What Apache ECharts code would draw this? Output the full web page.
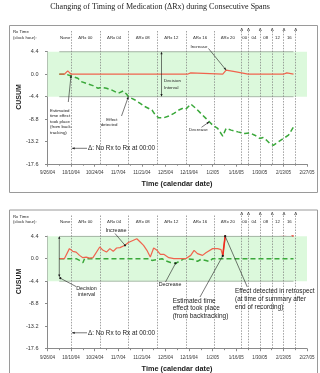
<!DOCTYPE html>
<html>
<head>
<meta charset="utf-8">
<script src="https://cdn.jsdelivr.net/npm/echarts/dist/echarts.min.js"></script>
<style>
  html, body { margin: 0; padding: 0; background: #fff; }
  #c { width: 320px; height: 373px; }
</style>
</head>
<body>
<div id="c"></div>
<script>
// ---- axis set-up -------------------------------------------------------
const axisStartDate = '2004-09-26';
const axisEndDate = '2005-02-27';
const dateTickDays = 14;
const cusumTicks = [-17.6, -13.2, -8.8, -4.4, 0, 4.4];
const decisionInterval = 4.4;

// ---- Rx periods ----------------------------------------------------------
const recordStart = '2004-10-03';
const recordEnd = '2005-02-19';
const rxChangeDates = ['2004-10-10', '2004-10-27', '2004-11-13', '2004-11-30', '2004-12-17',
  '2005-01-03', '2005-01-19', '2005-01-23', '2005-01-30', '2005-02-06', '2005-02-13', '2005-02-20'];
const rxPeriodLabels = ['None', 'ΔRx 00', 'ΔRx 04', 'ΔRx 08', 'ΔRx 12', 'ΔRx 16', 'ΔRx 20',
  '00', '04', '08', '12', '16'];
const deltaMarkDates = rxChangeDates.slice(6);

// ---- panel 1: CUSUM of the first recording -----------------------------
const upper1Dates = ['2004-10-03', '2004-10-06', '2004-10-08', '2004-10-09', '2004-10-10', '2004-12-18',
  '2004-12-20', '2004-12-21', '2005-01-08', '2005-01-10', '2005-01-16', '2005-01-23', '2005-02-13',
  '2005-02-15', '2005-02-16', '2005-02-19'];
const upper1Values = [0, 0, 0.65, 0.4, 0, 0, 0.26, 0, 0, 0.8, 0.45, 0, 0, 0.26, 0, 0];

const lower1Dates = ['2004-10-03', '2004-10-07', '2004-10-11', '2004-10-14', '2004-10-16', '2004-10-20',
  '2004-10-23', '2004-10-26', '2004-10-28', '2004-10-31', '2004-11-03', '2004-11-07', '2004-11-10',
  '2004-11-12', '2004-11-13', '2004-11-17', '2004-11-20', '2004-11-23', '2004-11-24', '2004-11-27',
  '2004-11-29', '2004-12-01', '2004-12-04', '2004-12-07', '2004-12-10', '2004-12-13', '2004-12-15',
  '2004-12-17', '2004-12-20', '2004-12-23', '2004-12-26', '2004-12-29', '2004-12-31', '2005-01-02',
  '2005-01-05', '2005-01-08', '2005-01-10', '2005-01-13', '2005-01-17', '2005-01-21', '2005-01-24',
  '2005-01-27', '2005-01-30', '2005-02-01', '2005-02-03', '2005-02-05', '2005-02-07', '2005-02-10',
  '2005-02-13', '2005-02-16', '2005-02-19'];
const lower1Values = [0, 0, -0.47, -0.8, -1.45, -1.9, -2.24, -2.75, -2.55, -2.75, -3.08, -3.73, -3.28,
  -3.93, -4.4, -5.05, -5.7, -6.37, -6.03, -7.0, -8.0, -8.53, -8.53, -8.19, -7.66, -7.0, -6.7, -6.88,
  -5.83, -6.68, -7.66, -8.64, -9.31, -9.96, -10.6, -12.1, -10.6, -10.94, -11.28, -11.59, -11.47,
  -11.93, -12.57, -12.38, -12.9, -13.56, -13.9, -13.24, -12.57, -11.93, -10.3];

// ---- panel 2: CUSUM of the second recording ----------------------------
const upper2Dates = ['2004-10-03', '2004-10-06', '2004-10-09', '2004-10-11', '2004-10-13', '2004-10-15',
  '2004-10-17', '2004-10-19', '2004-10-21', '2004-10-23', '2004-10-24', '2004-10-27', '2004-10-29',
  '2004-10-31', '2004-11-02', '2004-11-04', '2004-11-06', '2004-11-08', '2004-11-11', '2004-11-13',
  '2004-11-15', '2004-11-18', '2004-11-20', '2004-11-22', '2004-11-24', '2004-11-26', '2004-11-28',
  '2004-11-30', '2004-12-02', '2004-12-04', '2004-12-07', '2004-12-10', '2004-12-17', '2004-12-20',
  '2004-12-22', '2004-12-24', '2004-12-27', '2004-12-29', '2004-12-30', '2005-01-02', '2005-01-03',
  '2005-01-05', '2005-01-07', '2005-01-08', '2005-01-10', '2005-01-16', '2005-01-21', '2005-01-24',
  '2005-01-29', '2005-02-01', '2005-02-03', '2005-02-06', '2005-02-10', '2005-02-11', '2005-02-14',
  '2005-02-17', '2005-02-19'];
const upper2Values = [0, 0, 1.97, 1.44, 1.3, 0.65, 0.2, 0.32, 0.12, 0.2, 0, 2.29, 1.64, 1.3, 1.97, 1.44,
  2.09, 2.17, 2.62, 3.16, 3.47, 3.9, 3.27, 2.62, 1.64, 0.32, 2.09, 1.64, 0.85, 0.85, 0.2, 0, 0, 0.65,
  1.64, 0.99, 0.65, 1.18, 0.79, 1.97, 1.64, 1.97, 1.78, 0.55, 5.92, 5.68, 5.44, 5.25, 5.38, 5.88, 5.25,
  4.79, 4.79, 5.13, 4.73, 4.93, 4.4];
// the retrospective signal: from the estimated change point to the end of recording
const signalFromDate = '2005-01-08';

const lower2Dates = ['2004-10-03', '2004-10-13', '2004-10-15', '2004-10-17', '2004-10-18', '2004-11-25',
  '2004-11-27', '2004-11-28', '2004-12-03', '2004-12-05', '2004-12-08', '2004-12-11', '2004-12-14',
  '2004-12-16', '2004-12-22', '2004-12-24', '2004-12-26', '2004-12-29', '2004-12-31', '2005-01-02',
  '2005-02-19'];
const lower2Values = [0, 0, -0.34, -0.79, 0, 0, -0.34, 0, 0, -0.4, -0.75, -0.9, -0.4, 0, -0.14, -0.53,
  -0.14, -0.34, -0.53, 0, 0];

// ---- helpers -------------------------------------------------------------
const MS_DAY = 86400000;
const baseMs = (() => { const p = axisStartDate.split('-').map(Number); return Date.UTC(p[0], p[1] - 1, p[2]); })();
const dayOf = s => { const p = s.split('-').map(Number); return (Date.UTC(p[0], p[1] - 1, p[2]) - baseMs) / MS_DAY; };
const fmtDay = d => {
  const t = new Date(baseMs + Math.round(d) * MS_DAY);
  return (t.getUTCMonth() + 1) + '/' + t.getUTCDate() + '/' + String(t.getUTCFullYear()).slice(2);
};
const pairs = (dates, vals) => dates.map((d, i) => [dayOf(d), vals[i]]);
const valueAt = (dates, vals, d) => vals[dates.indexOf(d)];

const FONT = 'Liberation Sans';
const ink = '#1c1c1c';
const axisGrey = '#8a8a8a';
const redCol = '#f0644e';
const signalRed = '#ee2a1e';
const greenCol = '#3aa83a';
const PANEL_DY = 184.5;

const grids = [
  { left: 47.5, width: 259.5, top: 51.7, height: 112.5, outerBoundsMode: 'none' },
  { left: 47.5, width: 259.5, top: 51.7 + PANEL_DY, height: 112.5, outerBoundsMode: 'none' }
];

const xAxes = grids.map((g, i) => ({
  type: 'value', gridIndex: i,
  min: 0, max: dayOf(axisEndDate), interval: dateTickDays,
  axisLine: { show: true, onZero: false, lineStyle: { color: axisGrey, width: 1 } },
  axisTick: { show: true, length: 2.5, lineStyle: { color: axisGrey } },
  minorTick: { show: true, splitNumber: 2, length: 1.5, lineStyle: { color: axisGrey } },
  splitLine: { show: false },
  axisLabel: { fontSize: 4.5, color: '#333', margin: 6.5, fontFamily: FONT, formatter: fmtDay }
}));

const yAxes = grids.map((g, i) => ({
  type: 'value', gridIndex: i,
  min: cusumTicks[0], max: cusumTicks[cusumTicks.length - 1], interval: 4.4,
  axisLine: { show: true, onZero: false, lineStyle: { color: axisGrey, width: 1 } },
  axisTick: { show: true, length: 2.5, lineStyle: { color: axisGrey } },
  splitLine: { show: false },
  axisLabel: { fontSize: 5.5, color: '#333', margin: 9, fontFamily: FONT,
    formatter: v => (Math.abs(v) < 1e-6 ? '0.0' : v.toFixed(1)) }
}));

function panelSeries(i, upD, upV, loD, loV) {
  const s = dayOf(recordStart), e = dayOf(recordEnd);
  return [
    { type: 'line', xAxisIndex: i, yAxisIndex: i, silent: true, symbol: 'none', z: 1,
      data: [[s, decisionInterval], [e, decisionInterval]],
      lineStyle: { color: '#90a090', width: 1 },
      markArea: { silent: true, itemStyle: { color: '#dcf9dc' },
        data: [[{ yAxis: decisionInterval }, { yAxis: -decisionInterval }]] } },
    { type: 'line', xAxisIndex: i, yAxisIndex: i, silent: true, symbol: 'none', z: 1,
      data: [[s, -decisionInterval], [e, -decisionInterval]],
      lineStyle: { color: '#a8b8a8', width: 1 } },
    { type: 'line', xAxisIndex: i, yAxisIndex: i, silent: true, symbol: 'none', z: 4,
      data: pairs(loD, loV), lineStyle: { color: greenCol, width: 1.5, type: [5, 3] } },
    { type: 'line', xAxisIndex: i, yAxisIndex: i, silent: true, symbol: 'none', z: 5,
      data: pairs(upD, upV), lineStyle: { color: redCol, width: 1.2 } }
  ];
}

const sigIdx = upper2Dates.indexOf(signalFromDate);

const chart = echarts.init(document.getElementById('c'), null, { renderer: 'canvas' });
chart.setOption({
  animation: false,
  backgroundColor: '#fff',
  grid: grids,
  xAxis: xAxes,
  yAxis: yAxes,
  series: [
    ...panelSeries(0, upper1Dates, upper1Values, lower1Dates, lower1Values),
    ...panelSeries(1, upper2Dates, upper2Values, lower2Dates, lower2Values),
    { type: 'line', xAxisIndex: 1, yAxisIndex: 1, silent: true, symbol: 'none', z: 6,
      data: pairs(upper2Dates.slice(sigIdx), upper2Values.slice(sigIdx)),
      lineStyle: { color: signalRed, width: 1.6 } }
  ]
});

// ---- annotation layer ----------------------------------------------------
const P = (panel, day, v) => chart.convertToPixel({ gridIndex: panel }, [day, v]);
function text(x, y, str, size, o = {}) {
  return { type: 'text', x, y, rotation: o.rot || 0, silent: true, z: 50,
    style: { text: str, fill: o.color || ink, fontSize: size, fontFamily: o.family || FONT,
      fontWeight: o.weight || 'normal', align: o.align || 'left', verticalAlign: o.valign || 'middle',
      lineHeight: o.lh || size * 1.2 } };
}
function seg(x1, y1, x2, y2, o = {}) {
  return { type: 'line', silent: true, z: o.z || 50, shape: { x1, y1, x2, y2 },
    style: { stroke: o.color || ink, lineWidth: o.w || 0.6, lineDash: o.dash || null } };
}
function head(x1, y1, x2, y2, len = 2.6, half = 1.1) {
  const a = Math.atan2(y2 - y1, x2 - x1), c = Math.cos(a), s = Math.sin(a);
  const bx = x2 - c * len, by = y2 - s * len;
  return { type: 'polygon', silent: true, z: 51,
    shape: { points: [[x2, y2], [bx - s * half, by + c * half], [bx + s * half, by - c * half]] },
    style: { fill: ink } };
}
const dot = (x, y, r = 1.1) => ({ type: 'circle', silent: true, z: 51, shape: { cx: x, cy: y, r }, style: { fill: ink } });
const arrow = (x1, y1, x2, y2) => [seg(x1, y1, x2, y2), head(x1, y1, x2, y2)];
const pointer = (x1, y1, x2, y2) => [seg(x1, y1, x2, y2), dot(x2, y2)];

const els = [];
els.push(text(160, 7, 'Changing of Timing of Medication (ΔRx) during Consecutive Spans', 8,
  { family: 'Liberation Serif', align: 'center', color: '#222' }));

const bounds = [recordStart, ...rxChangeDates];
[0, 1].forEach(panel => {
  const dy = panel * PANEL_DY;
  const yTop = 31 + dy;
  const yBottom = P(panel, 0, cusumTicks[0])[1];
  // chart frame
  els.push({ type: 'rect', silent: true, z: 0,
    shape: { x: 9.5, y: 25.5 + dy, width: 308, height: panel ? 200 : 167 },
    style: { fill: 'none', stroke: '#9a9a9a', lineWidth: 1 } });
  // Rx-change separators
  rxChangeDates.forEach(d => {
    const x = Math.round(P(panel, dayOf(d), 0)[0]) + 0.5;
    els.push(seg(x, yTop, x, yBottom, { color: '#7a7a7a', w: 0.7, dash: [1.5, 1.3], z: 3 }));
  });
  deltaMarkDates.forEach(d => {
    els.push(text(P(panel, dayOf(d), 0)[0] + 0.5, 29.5 + dy, 'Δ', 4.4, { align: 'center' }));
  });
  rxPeriodLabels.forEach((lab, i) => {
    const mid = (dayOf(bounds[i]) + dayOf(bounds[i + 1])) / 2;
    els.push(text(P(panel, mid, 0)[0], 37.5 + dy, lab, 4.3, { align: 'center' }));
  });
  els.push(text(13, 32 + dy, 'Rx Time', 4.3));
  els.push(text(13, 37.5 + dy, '(clock hour):', 4.3));
  els.push(text(19, 97 + dy, 'CUSUM', 7, { weight: 'bold', align: 'center', rot: Math.PI / 2 }));
  els.push(text(177, 184 + dy, 'Time (calendar date)', 7.3, { weight: 'bold', align: 'center' }));
  // arrow to the first Rx change
  const sx = P(panel, dayOf(rxChangeDates[0]), 0)[0];
  els.push(text(88, 148.3 + dy, 'Δ: No Rx to Rx at 00:00', 6.4));
  els.push(...arrow(87, 148.3 + dy, sx + 1, 148.3 + dy));
});

// panel 1 notes
{
  els.push(text(50, 107.5, 'Estimated\ntime effect\ntook place\n(from back-\ntracking)', 4.4, { valign: 'top', lh: 5.6 }));
  const t = P(0, dayOf(rxChangeDates[0]), valueAt(upper1Dates, upper1Values, '2004-10-10'));
  els.push(...arrow(68.3, 102, t[0], t[1] + 1));

  els.push(text(117.5, 116.5, 'Effect\ndetected', 4.4, { valign: 'top', align: 'right', lh: 5.8 }));
  const e = P(0, dayOf('2004-11-13'), valueAt(lower1Dates, lower1Values, '2004-11-13'));
  els.push(...arrow(121.5, 116, e[0], e[1]));

  const top = P(0, 0, decisionInterval)[1], bot = P(0, 0, -decisionInterval)[1];
  els.push(seg(161.5, top + 1, 161.5, bot - 1), head(161.5, bot, 161.5, top), head(161.5, top, 161.5, bot));
  els.push(text(164, 77, 'Decision\nInterval', 4.4, { valign: 'top', lh: 7 }));

  els.push(text(190.5, 46.5, 'Increase', 4.4));
  const inc = P(0, dayOf('2005-01-10'), valueAt(upper1Dates, upper1Values, '2005-01-10'));
  els.push(...arrow(208.5, 48.5, inc[0], inc[1]));

  els.push(text(189, 129.5, 'Decrease', 4.4));
  const dec = P(0, dayOf('2004-12-31'), valueAt(lower1Dates, lower1Values, '2004-12-31'));
  els.push(...arrow(201.5, 127.3, dec[0], dec[1]));
}

// panel 2 notes
{
  els.push(text(116, 230, 'Increase', 5.5, { align: 'center' }));
  const inc = P(1, dayOf('2004-11-11'), valueAt(upper2Dates, upper2Values, '2004-11-11'));
  els.push(...pointer(115, 233.5, inc[0], inc[1]));

  const xs = P(1, dayOf(recordStart), 0)[0];
  const top = P(1, 0, decisionInterval)[1], bot = P(1, 0, -decisionInterval)[1] - 4;
  els.push(seg(xs, top + 1, xs, bot - 1), head(xs, bot, xs, top), head(xs, top, xs, bot));
  els.push(...pointer(76, 286.5, xs + 1, bot + 1));
  els.push(text(86.5, 285.5, 'Decision\ninterval', 5.4, { align: 'center', valign: 'top', lh: 6.2 }));

  els.push(text(170, 285, 'Decrease', 5.3, { align: 'center' }));
  const dec = P(1, dayOf('2004-12-11'), valueAt(lower2Dates, lower2Values, '2004-12-11'));
  els.push(...pointer(165.5, 282, dec[0], dec[1]));

  els.push(text(172.7, 297, 'Estimated time\neffect took place\n(from backtracking)', 6.5, { valign: 'top', lh: 7.7 }));
  const est = P(1, dayOf(signalFromDate), valueAt(upper2Dates, upper2Values, signalFromDate));
  els.push(...pointer(200, 297, est[0], est[1]));

  els.push(text(235, 287.3, 'Effect detected in retrospect\n(at time of summary after\nend of recording)', 6.4, { valign: 'top', lh: 7.8 }));
  // crossing of the decision interval on the rise after the change point
  const d0 = dayOf(signalFromDate), d1 = dayOf(upper2Dates[sigIdx + 1]);
  const v0 = upper2Values[sigIdx], v1 = upper2Values[sigIdx + 1];
  const cross = P(1, d0 + (d1 - d0) * (decisionInterval - v0) / (v1 - v0), decisionInterval);
  els.push(...pointer(247.3, 287, cross[0], cross[1]));
}

chart.setOption({ graphic: { elements: els } });
</script>
</body>
</html>
